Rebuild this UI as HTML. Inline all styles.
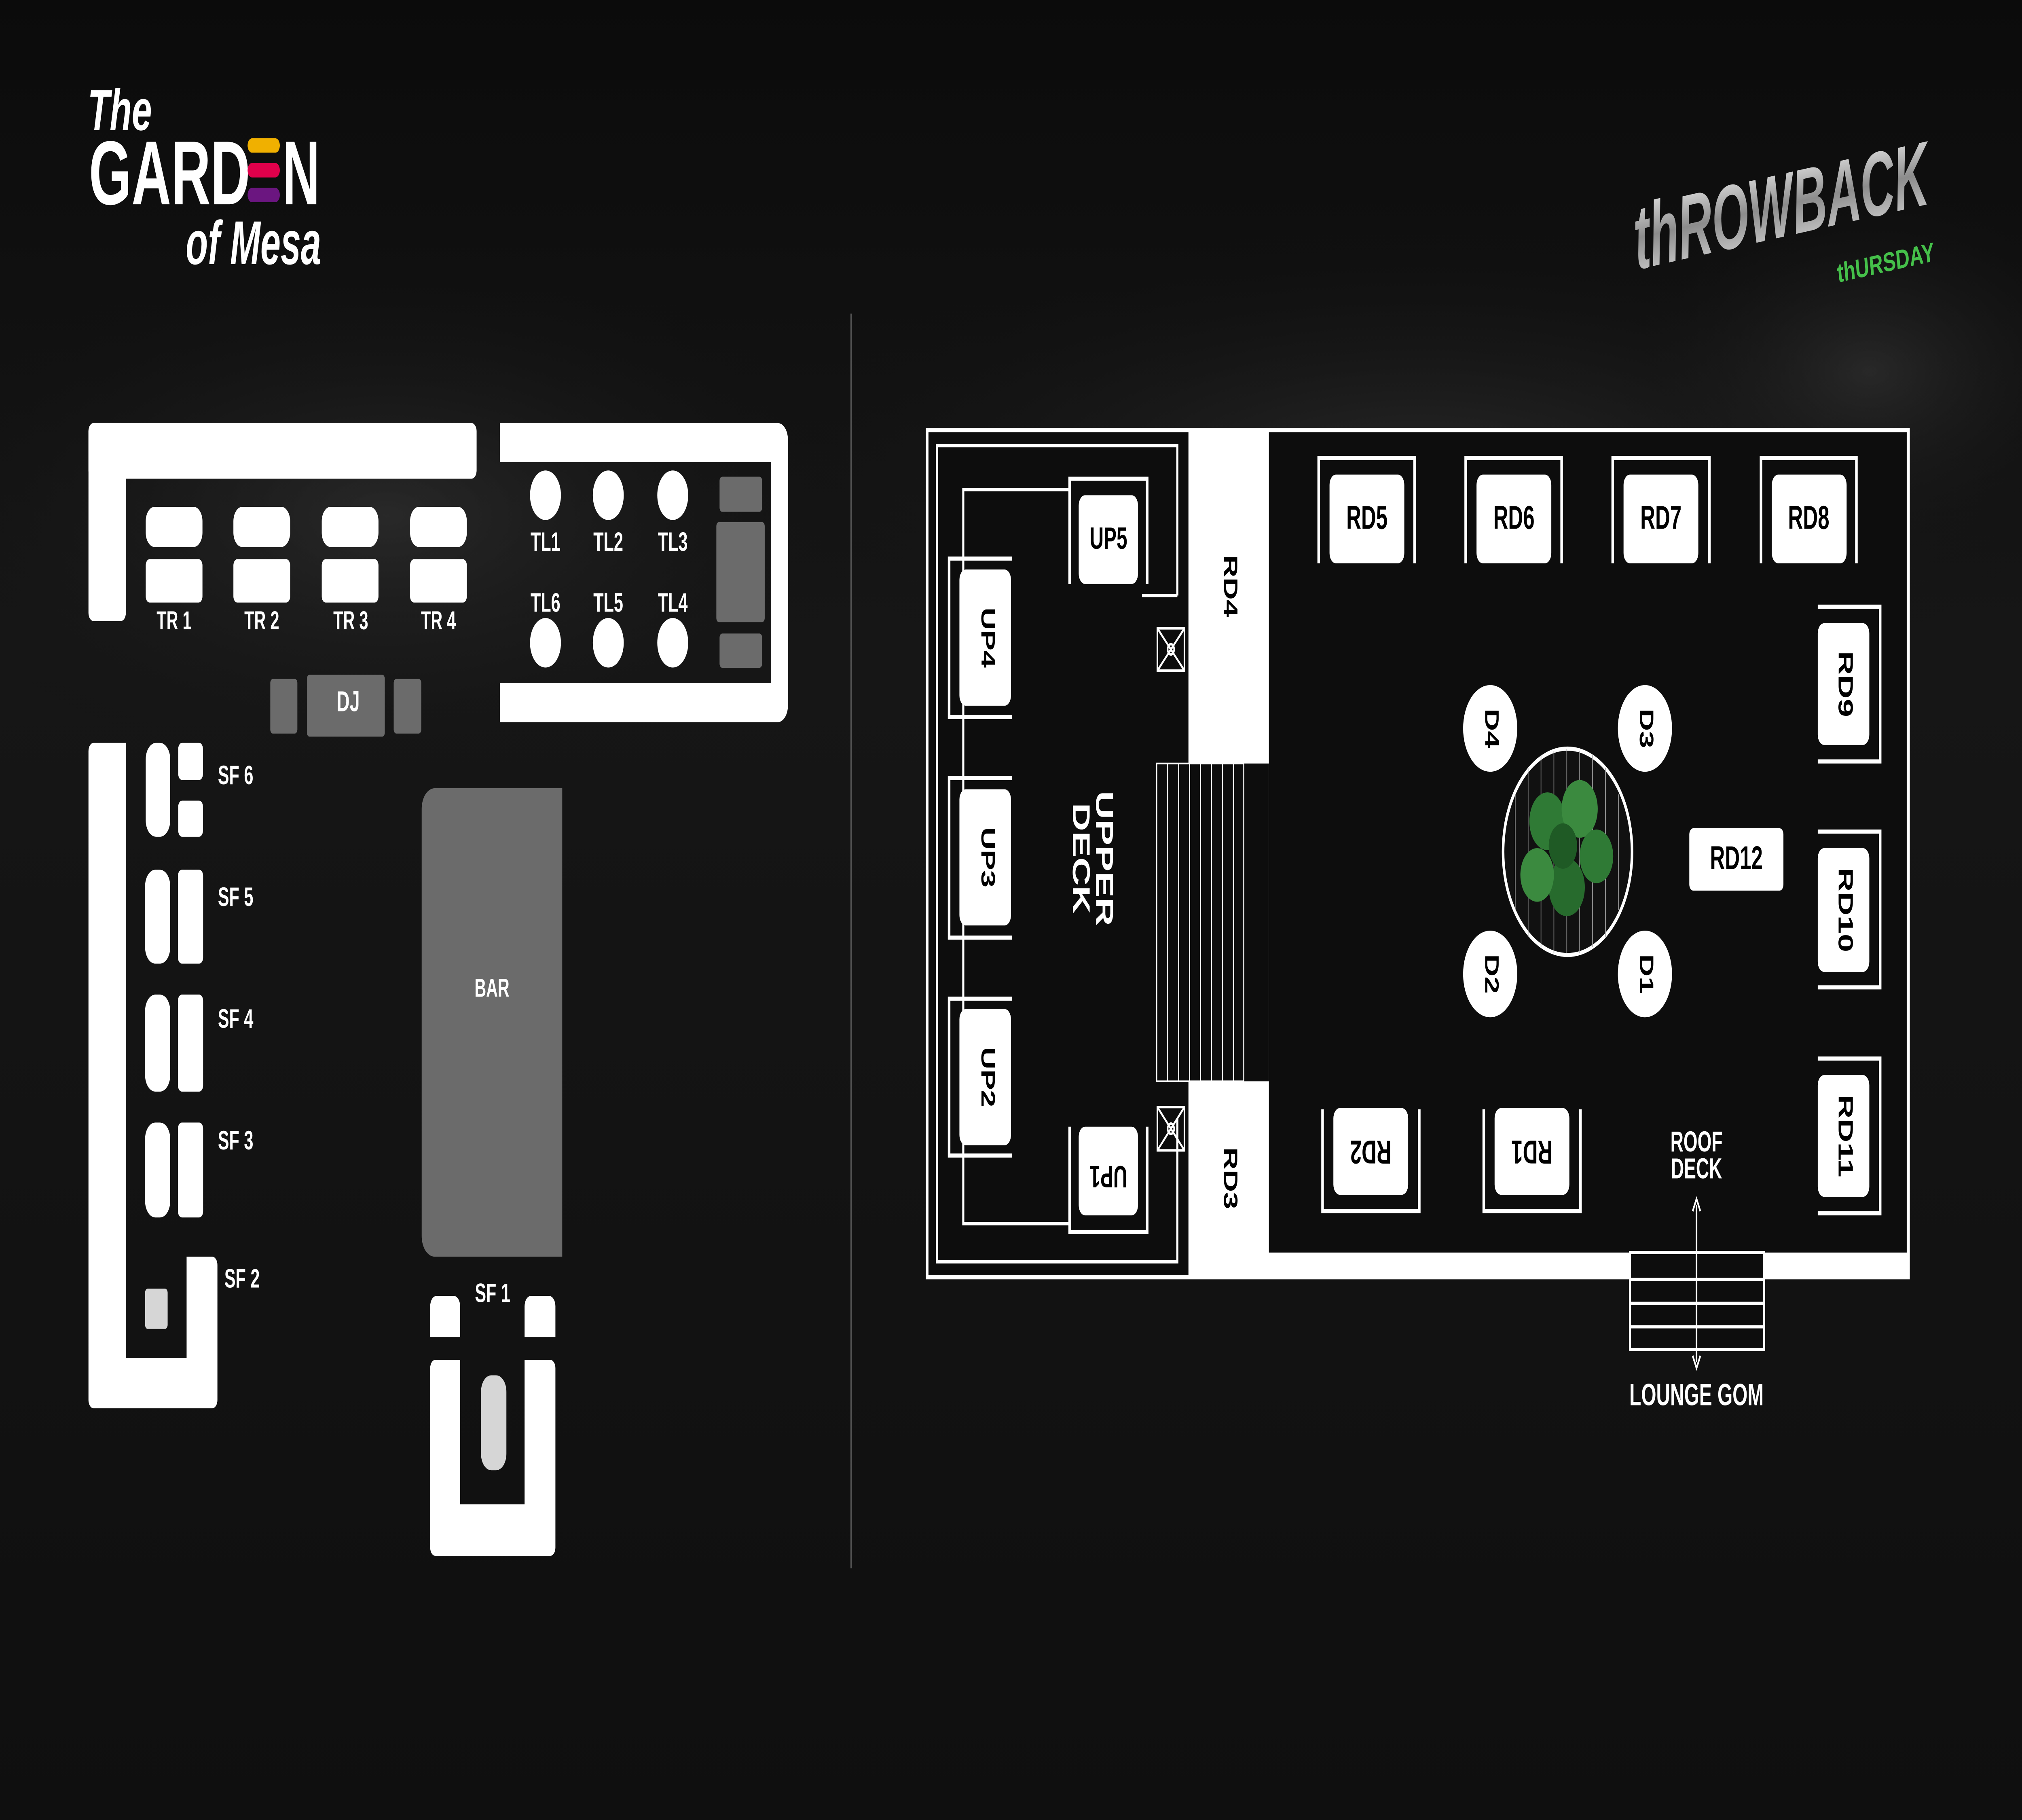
<!DOCTYPE html>
<html><head><meta charset="utf-8"><style>
html,body{margin:0;padding:0;background:#0e0e0e;width:100vw;height:100vh;overflow:hidden;}
svg{display:block;position:fixed;left:0;top:0;width:100vw;height:100vh;}
text{font-family:"Liberation Sans",sans-serif;font-weight:bold;}
</style></head><body>
<svg viewBox="0 0 1568 882" preserveAspectRatio="none" xmlns="http://www.w3.org/2000/svg">
<defs>
<radialGradient id="g1" cx="0.5" cy="0.5" r="0.5"><stop offset="0" stop-color="#3a3a3a" stop-opacity="0.55"/><stop offset="1" stop-color="#111" stop-opacity="0"/></radialGradient>
<linearGradient id="bg" x1="0" y1="0" x2="0" y2="1"><stop offset="0" stop-color="#0b0b0b"/><stop offset="0.35" stop-color="#161616"/><stop offset="1" stop-color="#0f0f0f"/></linearGradient>
<linearGradient id="chrome" x1="0" y1="0" x2="0" y2="1"><stop offset="0" stop-color="#f2f2f2"/><stop offset="0.5" stop-color="#8c8c8c"/><stop offset="1" stop-color="#d8d8d8"/></linearGradient>
</defs>
<rect width="1568" height="882" fill="url(#bg)"/>
<ellipse cx="300" cy="250" rx="380" ry="130" fill="url(#g1)"/>
<ellipse cx="1100" cy="230" rx="520" ry="120" fill="url(#g1)"/>
<ellipse cx="1450" cy="180" rx="200" ry="90" fill="url(#g1)"/>

<text x="68" y="63" font-family="Liberation Serif,serif" font-style="italic" font-size="28" fill="#fff">The</text>
<text x="69" y="99" font-size="44" fill="#fff" textLength="125" lengthAdjust="spacingAndGlyphs">GARD</text>
<rect x="192" y="67" width="25" height="7" rx="3.5" fill="#f0b000"/>
<rect x="192" y="79" width="25" height="7" rx="3.5" fill="#e0004b"/>
<rect x="192" y="91" width="25" height="7" rx="3.5" fill="#6b1680"/>
<text x="219" y="99" font-size="44" fill="#fff" textLength="29" lengthAdjust="spacingAndGlyphs">N</text>
<text x="144" y="128" font-family="Liberation Serif,serif" font-style="italic" font-size="30" fill="#fff" textLength="105" lengthAdjust="spacingAndGlyphs">of Mesa</text>

<text x="1266" y="115" font-size="44" fill="url(#chrome)" transform="rotate(-8 1380 100)" textLength="230" lengthAdjust="spacingAndGlyphs" font-style="italic">thROWBACK</text>
<text x="1424" y="132" font-size="13" fill="#45c04a" transform="rotate(-8 1460 125)" textLength="76" lengthAdjust="spacingAndGlyphs">thURSDAY</text>

<line x1="660" y1="152" x2="660" y2="760" stroke="#555" stroke-width="1"/>

<g fill="#fff">
<rect x="68.6" y="205" width="301" height="27" rx="4"/>
<rect x="68.6" y="205" width="29" height="96" rx="4"/>
<path d="M387.6 205 H603 a8 8 0 0 1 8 8 V342 a8 8 0 0 1 -8 8 H387.6 V331 H598 V224 H387.6 Z"/>
</g>
<g fill="#fff">
<rect x="113" y="245.6" width="44" height="19.5" rx="7"/><rect x="113" y="271" width="44" height="21" rx="3"/>
<rect x="181" y="245.6" width="44" height="19.5" rx="7"/><rect x="181" y="271" width="44" height="21" rx="3"/>
<rect x="249.5" y="245.6" width="44" height="19.5" rx="7"/><rect x="249.5" y="271" width="44" height="21" rx="3"/>
<rect x="318" y="245.6" width="44" height="19.5" rx="7"/><rect x="318" y="271" width="44" height="21" rx="3"/>
</g>
<g fill="#fff" font-size="12.5" text-anchor="middle">
<text x="135" y="305">TR 1</text><text x="203" y="305">TR 2</text><text x="272" y="305">TR 3</text><text x="340" y="305">TR 4</text>
</g>
<g fill="#fff">
<circle cx="423" cy="240" r="12"/><circle cx="471.7" cy="240" r="12"/><circle cx="521.7" cy="240" r="12"/>
<circle cx="423" cy="311.5" r="12"/><circle cx="471.7" cy="311.5" r="12"/><circle cx="521.7" cy="311.5" r="12"/>
</g>
<g fill="#fff" font-size="13" text-anchor="middle">
<text x="423" y="267">TL1</text><text x="471.7" y="267">TL2</text><text x="521.7" y="267">TL3</text>
<text x="423" y="296.5">TL6</text><text x="471.7" y="296.5">TL5</text><text x="521.7" y="296.5">TL4</text>
</g>
<g fill="#6b6b6b">
<rect x="558" y="231" width="33" height="17" rx="2"/><rect x="555.5" y="253" width="37.5" height="48.5" rx="2"/><rect x="558" y="307" width="33" height="16.6" rx="2"/>
<rect x="209.6" y="329" width="21" height="26.5" rx="2"/><rect x="238" y="327" width="60.4" height="30" rx="2"/><rect x="305.3" y="329" width="21.4" height="26.5" rx="2"/>
</g>
<text x="270" y="341" fill="#fff" font-size="14" text-anchor="middle" dominant-baseline="middle">DJ</text>

<path d="M68.6 364 a4 4 0 0 1 4 -4 H97.6 V658 H144.7 V609 H164.6 a4 4 0 0 1 4 4 V678.5 a4 4 0 0 1 -4 4 H72.6 a4 4 0 0 1 -4 -4 Z" fill="#fff"/>
<g fill="#fff">
<rect x="113" y="360" width="19" height="45.5" rx="8"/><rect x="138.2" y="360" width="19.2" height="18" rx="3"/><rect x="138.2" y="388" width="19.2" height="17.5" rx="3"/>
<rect x="112.5" y="421.5" width="19.5" height="45.5" rx="8"/><rect x="138" y="421.5" width="19.5" height="45.5" rx="3"/>
<rect x="112.5" y="482" width="19.5" height="47" rx="8"/><rect x="138" y="482" width="19.5" height="47" rx="3"/>
<rect x="112.5" y="544" width="19.5" height="46" rx="8"/><rect x="138" y="544" width="19.5" height="46" rx="3"/>
</g>
<rect x="112.5" y="624.5" width="17.5" height="19.5" rx="2" fill="#d6d6d6"/>
<g fill="#fff" font-size="13">
<text x="169" y="380">SF 6</text><text x="169" y="439">SF 5</text><text x="169" y="498">SF 4</text><text x="169" y="557">SF 3</text><text x="174" y="624">SF 2</text>
</g>
<path d="M337 382 H436 V609 H337 a10 10 0 0 1 -10 -10 V392 a10 10 0 0 1 10 -10 Z" fill="#6b6b6b"/>
<text x="381.5" y="483" fill="#fff" font-size="12.5" text-anchor="middle">BAR</text>
<g fill="#fff">
<path d="M333.6 648 V633 a5 5 0 0 1 5 -5 H351.8 a5 5 0 0 1 5 5 V648 Z"/>
<path d="M406.8 648 V633 a5 5 0 0 1 5 -5 H425.7 a5 5 0 0 1 5 5 V648 Z"/>
<path d="M333.6 663 a4 4 0 0 1 4 -4 H356.8 V729 H406.8 V659 H426.7 a4 4 0 0 1 4 4 V750 a4 4 0 0 1 -4 4 H337.6 a4 4 0 0 1 -4 -4 Z"/>
</g>
<rect x="373" y="666.5" width="19.7" height="46" rx="8" fill="#d6d6d6"/>
<text x="382" y="631" fill="#fff" font-size="13" text-anchor="middle">SF 1</text>

<rect x="718" y="207.5" width="763" height="412.5" fill="#fff"/>
<rect x="720" y="209.5" width="201.6" height="408.5" fill="#0d0d0d"/>
<rect x="984" y="209.5" width="494.6" height="397.5" fill="#0d0d0d"/>
<rect x="897" y="370" width="87" height="154" fill="#0d0d0d"/>
<g stroke="#fff" stroke-width="0.8" fill="none">
<rect x="897" y="370" width="67.5" height="154"/>
<line x1="905.5" y1="370" x2="905.5" y2="524"/><line x1="914" y1="370" x2="914" y2="524"/><line x1="922.5" y1="370" x2="922.5" y2="524"/><line x1="931" y1="370" x2="931" y2="524"/><line x1="939.5" y1="370" x2="939.5" y2="524"/><line x1="948" y1="370" x2="948" y2="524"/><line x1="956.5" y1="370" x2="956.5" y2="524"/>
</g>
<g stroke="#fff" stroke-width="1.6" fill="none">
<path d="M913 288.6 V216 H726.6 V611.5 H913 V542"/>
<path d="M913 288.6 H885.6"/>
<path d="M829 237.3 H747 V593 H829"/>
</g>
<g stroke="#fff" stroke-width="2" fill="none">
<path d="M784.6 270.7 H736 V347.5 H784.6"/><path d="M784.6 377 H736 V454.4 H784.6"/><path d="M784.6 484 H736 V560 H784.6"/>
<path d="M829.5 283 V232 H889.6 V283"/><path d="M829.5 546 V597 H889.6 V546"/>
</g>
<g fill="#fff">
<rect x="744" y="276" width="40" height="66" rx="5"/><rect x="744" y="382.5" width="40" height="66" rx="5"/><rect x="744" y="489" width="40" height="66" rx="5"/>
<rect x="836.5" y="240" width="46" height="43" rx="5"/><rect x="836.5" y="546" width="46" height="43" rx="5"/>
</g>
<g fill="#000" font-size="15" text-anchor="middle" dominant-baseline="middle">
<text transform="translate(765 309) rotate(90)">UP4</text>
<text transform="translate(765 415.5) rotate(90)">UP3</text>
<text transform="translate(765 522) rotate(90)">UP2</text>
<text x="859.6" y="262">UP5</text>
<text transform="translate(859.6 569) rotate(180)">UP1</text>
</g>
<g stroke="#fff" stroke-width="1.2" fill="none">
<rect x="897.5" y="304.5" width="21" height="20.5"/><path d="M897.5 304.5 L918.5 325 M918.5 304.5 L897.5 325"/><circle cx="908" cy="314.7" r="2.5"/>
<rect x="897.5" y="536.5" width="21" height="21"/><path d="M897.5 536.5 L918.5 557.5 M918.5 536.5 L897.5 557.5"/><circle cx="908" cy="547" r="2.5"/>
</g>
<g fill="#fff" font-size="19" text-anchor="middle" dominant-baseline="middle">
<text transform="translate(846 416) rotate(90)" x="0" y="-9">UPPER</text>
<text transform="translate(846 416) rotate(90)" x="0" y="9">DECK</text>
</g>
<g fill="#000" font-size="15" text-anchor="middle" dominant-baseline="middle">
<text transform="translate(953 284) rotate(90)">RD4</text>
<text transform="translate(953 571) rotate(90)">RD3</text>
</g>
<g stroke="#fff" stroke-width="2" fill="none">
<path d="M1022.6 273 V222 H1097 V273"/><path d="M1136.6 273 V222 H1211 V273"/><path d="M1250.6 273 V222 H1325.6 V273"/><path d="M1365.6 273 V222 H1439.6 V273"/>
<path d="M1409.6 294 H1458 V369 H1409.6"/><path d="M1409.6 403 H1458 V478.5 H1409.6"/><path d="M1409.6 513 H1458 V588 H1409.6"/>
<path d="M1025.6 537.6 V587 H1100.6 V537.6"/><path d="M1150.6 537.6 V587 H1225.6 V537.6"/>
</g>
<g fill="#fff">
<rect x="1031" y="230" width="58" height="43" rx="5"/><rect x="1145" y="230" width="58" height="43" rx="5"/><rect x="1259" y="230" width="58" height="43" rx="5"/><rect x="1374" y="230" width="58" height="43" rx="5"/>
<rect x="1409.6" y="302" width="40" height="59" rx="5"/><rect x="1409.6" y="411" width="40" height="60" rx="5"/><rect x="1409.6" y="521" width="40" height="59" rx="5"/>
<rect x="1034" y="537" width="58" height="42" rx="5"/><rect x="1159" y="537" width="58" height="42" rx="5"/>
<rect x="1310" y="401.4" width="73" height="30.2" rx="3"/>
</g>
<g fill="#000" font-size="16" text-anchor="middle" dominant-baseline="middle">
<text x="1060" y="252">RD5</text><text x="1174" y="252">RD6</text><text x="1288" y="252">RD7</text><text x="1402.6" y="252">RD8</text>
<text transform="translate(1430 331.5) rotate(90)">RD9</text>
<text transform="translate(1430 441) rotate(90)">RD10</text>
<text transform="translate(1430 550.5) rotate(90)">RD11</text>
<text transform="translate(1063 557) rotate(180)">RD2</text>
<text transform="translate(1188 557) rotate(180)">RD1</text>
<text x="1346.5" y="417">RD12</text>
</g>
<g>
<circle cx="1215.6" cy="412.8" r="50" fill="#111" stroke="#fff" stroke-width="2"/>
<g stroke="#aaa" stroke-width="0.5">
<line x1="1175" y1="385" x2="1175" y2="441"/><line x1="1185" y1="372" x2="1185" y2="454"/><line x1="1195" y1="366" x2="1195" y2="459"/><line x1="1205" y1="364" x2="1205" y2="462"/><line x1="1215" y1="363" x2="1215" y2="462"/><line x1="1225" y1="364" x2="1225" y2="462"/><line x1="1235" y1="366" x2="1235" y2="459"/><line x1="1245" y1="372" x2="1245" y2="454"/><line x1="1255" y1="385" x2="1255" y2="441"/>
</g>
<g fill="#2f7a35">
<circle cx="1200" cy="398" r="14"/><circle cx="1225" cy="392" r="14" fill="#3b8a3f"/><circle cx="1238" cy="415" r="13"/><circle cx="1215" cy="430" r="14" fill="#276b2d"/><circle cx="1192" cy="424" r="13" fill="#3b8a3f"/><circle cx="1212" cy="410" r="11" fill="#1f5a25"/>
</g>
</g>
<g fill="#fff">
<circle cx="1155.6" cy="353" r="21"/><circle cx="1275.6" cy="353" r="21"/><circle cx="1155.6" cy="472" r="21"/><circle cx="1275.6" cy="472" r="21"/>
</g>
<g fill="#000" font-size="15" text-anchor="middle" dominant-baseline="middle">
<text transform="translate(1155.6 353) rotate(90)">D4</text>
<text transform="translate(1275.6 353) rotate(90)">D3</text>
<text transform="translate(1155.6 472) rotate(90)">D2</text>
<text transform="translate(1275.6 472) rotate(90)">D1</text>
</g>
<g fill="#fff" font-size="14" text-anchor="middle" font-weight="normal">
<text x="1315.6" y="558">ROOF</text><text x="1315.6" y="571">DECK</text>
</g>
<rect x="1264" y="607" width="104" height="47" fill="#0d0d0d" stroke="#fff" stroke-width="1.5"/>
<g stroke="#fff" stroke-width="1.5">
<line x1="1264" y1="620" x2="1368" y2="620"/><line x1="1264" y1="631.6" x2="1368" y2="631.6"/><line x1="1264" y1="643" x2="1368" y2="643"/>
<line x1="1315.6" y1="584" x2="1315.6" y2="660" stroke-width="1.2"/>
</g>
<path d="M1312.6 587 L1315.6 581 L1318.6 587 M1312.6 657 L1315.6 663 L1318.6 657" stroke="#fff" stroke-width="1.2" fill="none"/>
<text x="1315.6" y="681" fill="#fff" font-size="15" text-anchor="middle">LOUNGE GOM</text>
</svg>
</body></html>
